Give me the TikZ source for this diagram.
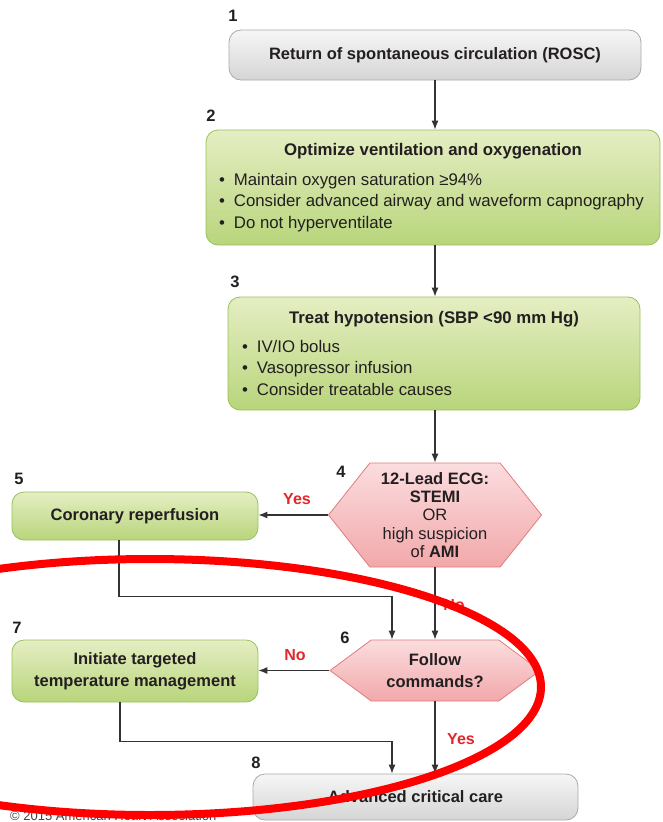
\documentclass[tikz,border=0pt]{standalone}
\usepackage{fontspec}
\setmainfont{Liberation Sans}
\usetikzlibrary{arrows.meta,shapes.symbols,positioning}

\definecolor{boxgrey}{HTML}{A9A9A9}
\definecolor{greyTop}{HTML}{F6F6F6}
\definecolor{greyBot}{HTML}{D5D5D5}
\definecolor{greenline}{HTML}{96C25C}
\definecolor{greenTop}{HTML}{E5EEC3}
\definecolor{greenBot}{HTML}{B8D57B}
\definecolor{pinkline}{HTML}{E17B7E}
\definecolor{pinkTop}{HTML}{FBDDDE}
\definecolor{pinkBot}{HTML}{F2A8AB}
\definecolor{yesno}{HTML}{E4262C}
\definecolor{ink}{HTML}{231F20}
\definecolor{wire}{HTML}{333333}

\newcommand{\bul}{\textbullet\hspace{9pt}}

\begin{document}
\begin{tikzpicture}[x=1pt,y=-1pt,text=ink,font=\fontsize{16.5}{19}\selectfont]
  \tikzstyle{greybox}=[rectangle,rounded corners=12pt,draw=boxgrey,line width=0.8pt,
                       top color=greyTop,bottom color=greyBot,inner sep=0pt,align=center,
                       font=\fontsize{16.5}{19}\selectfont\bfseries]
  \tikzstyle{greenbox}=[greybox,draw=greenline,top color=greenTop,bottom color=greenBot,
                        font=\fontsize{16.5}{22}\selectfont\bfseries]
  \tikzstyle{hexa}=[signal,signal to=west and east,draw=pinkline,line width=0.8pt,
                    top color=pinkTop,bottom color=pinkBot,inner sep=0pt,align=center]
  \tikzstyle{num}=[font=\fontsize{16.5}{19}\selectfont\bfseries,inner sep=0pt]
  \tikzstyle{yn}=[font=\fontsize{16}{19}\selectfont\bfseries,text=yesno,inner sep=0pt]
  \tikzstyle{conn}=[draw=wire,line width=1.1pt,-{Latex[length=9pt,width=7pt]}]

  \useasboundingbox (0,0) rectangle (662,822);

  % boxes
  \node[greybox,minimum width=412pt,minimum height=50pt] (rosc) at (435,55)
    {Return of spontaneous circulation (ROSC)};
  \node[greenbox,minimum width=454pt,minimum height=115pt] (vent) at (433,187.5)
    {\parbox{428pt}{\fontsize{16.8}{21.5}\selectfont
      \centering Optimize ventilation and oxygenation\par\vspace{8pt}
      \raggedright\mdseries
      \bul Maintain oxygen saturation ≥94\%\par
      \bul Consider advanced airway and waveform capnography\par
      \bul Do not hyperventilate}};
  \node[greenbox,minimum width=412pt,minimum height=113pt] (hypo) at (434,353.5)
    {\parbox{384pt}{\fontsize{16.8}{21.5}\selectfont
      \centering Treat hypotension (SBP <90 mm Hg)\par\vspace{7pt}
      \raggedright\mdseries
      \bul IV/IO bolus\par
      \bul Vasopressor infusion\par
      \bul Consider treatable causes}};
  \node[hexa,minimum width=213pt,minimum height=104pt,signal pointer angle=103,
        font=\fontsize{16.5}{18.3}\selectfont] (ecg) at (435,515)
    {\textbf{12-Lead ECG:}\\\textbf{STEMI}\\OR\\high suspicion\\of \textbf{AMI}};
  \node[greenbox,minimum width=246pt,minimum height=48pt] (reperf) at (135,516)
    {Coronary reperfusion};
  \node[hexa,minimum width=210pt,minimum height=61pt,signal pointer angle=73,
        font=\fontsize{16.5}{22}\selectfont\bfseries] (follow) at (435,670.5)
    {Follow\\commands?};
  \node[greenbox,minimum width=246pt,minimum height=62pt] (ttm) at (135,671)
    {Initiate targeted\\temperature management};
  \node[greybox,minimum width=325pt,minimum height=46pt] (care) at (415.5,797)
    {Advanced critical care};

  % step numbers
  \foreach \n/\x/\y in {1/233/16, 2/211/116, 3/235/282, 4/341/472,
                        5/19/479, 6/345/638, 7/17/628, 8/256/763}
    \node[num] (num-\n) at (\x,\y) {\n};

  % connectors
  \draw[conn] (rosc.south) -- (rosc.south |- vent.north);
  \draw[conn] (rosc.south |- vent.south) -- (rosc.south |- hypo.north);
  \draw[conn] (rosc.south |- hypo.south) -- (ecg.north);
  \draw[conn] (ecg.west) -- (ecg.west -| reperf.east);
  \draw[conn] (ecg.south) -- (follow.north);
  \draw[conn] ([xshift=-16pt]reperf.south) -- ++(0,56) -| ([xshift=-43pt]follow.north);
  \draw[conn] (follow.west) -- (follow.west -| ttm.east);
  \draw[conn] ([xshift=-15pt]ttm.south) -- ++(0,39) -| ([xshift=-23.5pt]care.north);
  \draw[conn] (follow.south) -- (follow.south |- care.north);

  % yes / no
  \node[yn] (yes-ecg) at (297,499) {Yes};
  \node[yn] (no-ecg) at (454,605) {No};
  \node[yn] (no-follow) at (295,655) {No};
  \node[yn] (yes-follow) at (461,739) {Yes};

  \node[anchor=west,inner sep=0pt,text=ink!85,font=\fontsize{13}{13}\selectfont] (copyright)
    at (10,816) {© 2015 American Heart Association};

  % red mark
  \draw[red,line width=8pt] (150,687) ellipse [x radius=391, y radius=128];
\end{tikzpicture}
\end{document}
